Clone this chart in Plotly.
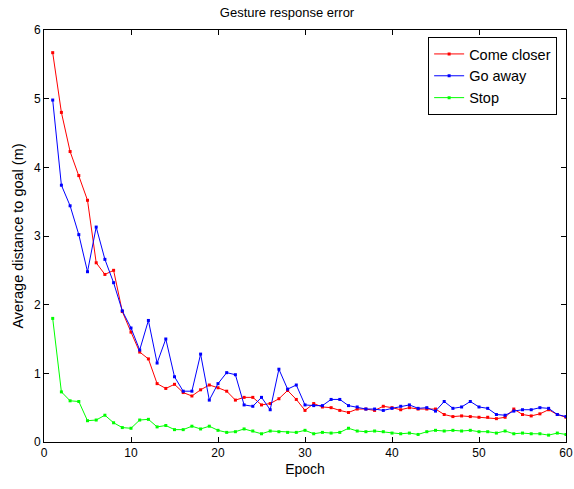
import plotly.graph_objects as go

epochs = list(range(1, 61))
come_closer = [5.67, 4.80, 4.23, 3.88, 3.52, 2.61, 2.44, 2.50, 1.90, 1.60,
               1.31, 1.21, 0.85, 0.78, 0.84, 0.72, 0.67, 0.76, 0.83, 0.79,
               0.74, 0.61, 0.65, 0.65, 0.54, 0.56, 0.63, 0.75, 0.62, 0.46,
               0.56, 0.51, 0.50, 0.46, 0.43, 0.48, 0.48, 0.46, 0.52, 0.50,
               0.47, 0.50, 0.48, 0.48, 0.48, 0.40, 0.37, 0.38, 0.37, 0.36,
               0.36, 0.34, 0.36, 0.48, 0.40, 0.38, 0.41, 0.47, 0.40, 0.36]
go_away = [4.98, 3.74, 3.44, 3.02, 2.48, 3.13, 2.66, 2.32, 1.91, 1.66,
           1.34, 1.77, 1.15, 1.50, 0.95, 0.74, 0.74, 1.28, 0.61, 0.85,
           1.01, 0.98, 0.54, 0.52, 0.65, 0.47, 1.06, 0.77, 0.83, 0.54,
           0.53, 0.53, 0.62, 0.62, 0.53, 0.51, 0.48, 0.48, 0.46, 0.49,
           0.52, 0.54, 0.49, 0.50, 0.45, 0.59, 0.49, 0.51, 0.59, 0.51,
           0.49, 0.40, 0.39, 0.45, 0.47, 0.47, 0.50, 0.49, 0.40, 0.37]
stop = [1.80, 0.73, 0.60, 0.59, 0.31, 0.32, 0.39, 0.28, 0.21, 0.20,
        0.32, 0.33, 0.22, 0.24, 0.18, 0.18, 0.23, 0.19, 0.23, 0.17,
        0.14, 0.15, 0.19, 0.16, 0.12, 0.16, 0.15, 0.14, 0.14, 0.17,
        0.12, 0.14, 0.13, 0.14, 0.20, 0.16, 0.15, 0.16, 0.15, 0.13,
        0.12, 0.13, 0.11, 0.15, 0.17, 0.16, 0.17, 0.16, 0.17, 0.15,
        0.15, 0.13, 0.16, 0.12, 0.13, 0.12, 0.12, 0.10, 0.13, 0.11]

series = [("Come closer", come_closer, "#ff0000"),
          ("Go away", go_away, "#0000ff"),
          ("Stop", stop, "#00ff00")]

fig = go.Figure()
for name, vals, col in series:
    fig.add_trace(go.Scatter(x=epochs, y=vals, name=name, mode="lines+markers",
                             line=dict(color=col, width=1),
                             marker=dict(color=col, size=3, symbol="square")))

font = dict(family="Liberation Sans, Arial, sans-serif", size=12, color="black")
axis_common = dict(showgrid=False, zeroline=False, showline=True, linecolor="black",
                   linewidth=1, mirror="ticks", ticks="inside", ticklen=5,
                   tickcolor="black", tickfont=dict(size=12), automargin=False)
fig.update_layout(
    width=574, height=489,
    margin=dict(l=44, r=8, t=30, b=47),
    paper_bgcolor="white", plot_bgcolor="white",
    font=font,
    title=dict(text="Gesture response error", x=0.5, xanchor="center",
               y=0.975, yanchor="middle", font=dict(size=13)),
    xaxis=dict(range=[0, 60], tickvals=[0, 10, 20, 30, 40, 50, 60],
               title=dict(text="Epoch", standoff=4, font=dict(size=14)),
               **axis_common),
    yaxis=dict(range=[0, 6], tickvals=[0, 1, 2, 3, 4, 5, 6],
               title=dict(text="Average distance to goal (m)", standoff=6,
                          font=dict(size=14.5)),
               **axis_common),
    legend=dict(x=0.983, y=0.983, xanchor="right", yanchor="top",
                bgcolor="white", bordercolor="black", borderwidth=1,
                font=dict(size=14.5), tracegroupgap=0),
    showlegend=True,
)

fig.write_html("out.html", config={"displayModeBar": False},
               post_script="document.body.style.margin='0';document.body.style.overflow='hidden';")
